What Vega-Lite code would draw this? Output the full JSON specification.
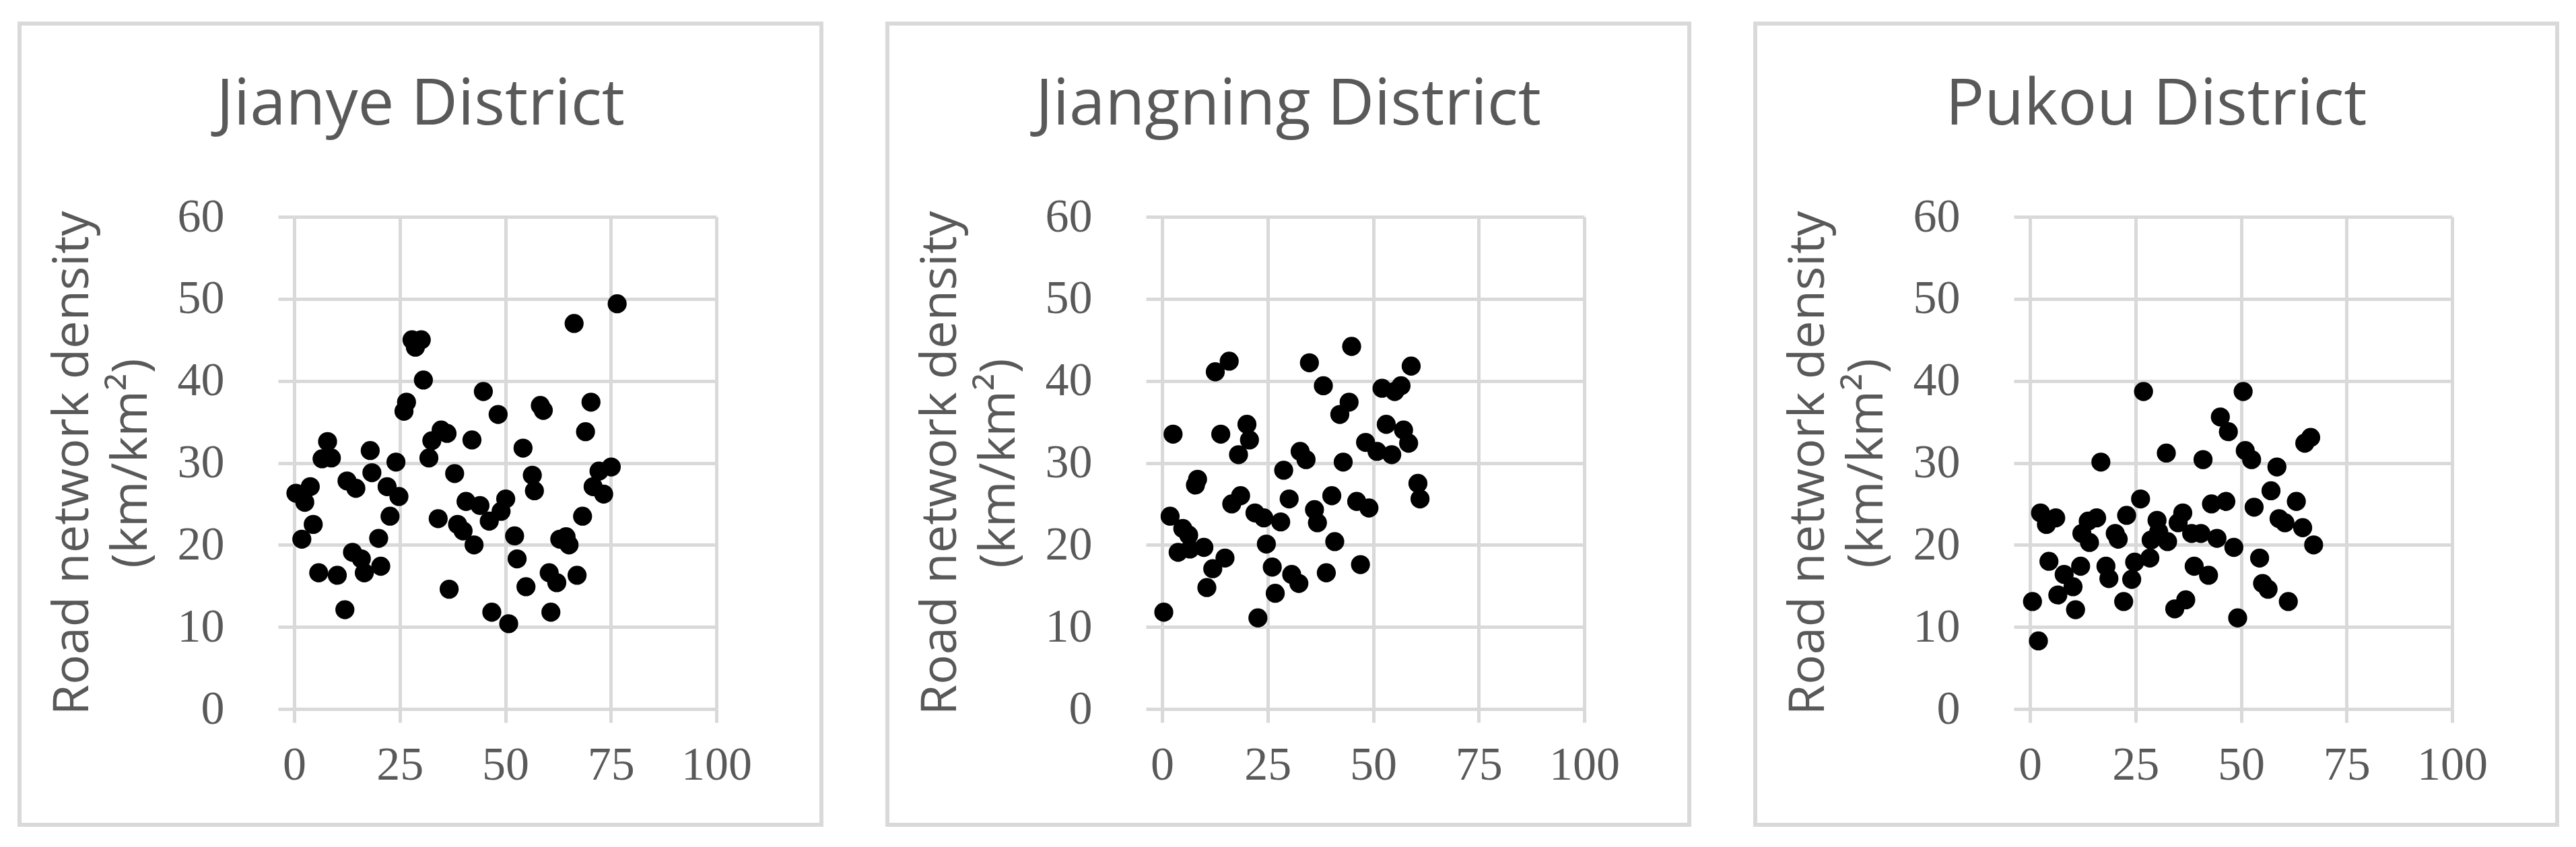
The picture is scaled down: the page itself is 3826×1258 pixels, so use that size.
{
  "$schema": "https://vega.github.io/schema/vega-lite/v6.json",
  "background": "white",
  "padding": {"left": 26, "top": 32, "right": 20, "bottom": 20},
  "spacing": 92,
  "data": {"values": [
    {"district":"J","x":76.5,"y":49.4},{"district":"J","x":66.3,"y":47.0},{"district":"J","x":27.9,"y":45.0},{"district":"J","x":30.1,"y":45.0},{"district":"J","x":28.7,"y":44.1},{"district":"J","x":30.6,"y":40.1},{"district":"J","x":44.8,"y":38.7},{"district":"J","x":26.6,"y":37.4},{"district":"J","x":26.0,"y":36.3},{"district":"J","x":48.3,"y":35.9},{"district":"J","x":58.3,"y":37.0},{"district":"J","x":59.0,"y":36.4},{"district":"J","x":70.3,"y":37.4},{"district":"J","x":69.0,"y":33.8},{"district":"J","x":34.8,"y":34.0},{"district":"J","x":36.2,"y":33.6},{"district":"J","x":32.6,"y":32.7},{"district":"J","x":31.9,"y":30.6},{"district":"J","x":42.1,"y":32.8},{"district":"J","x":7.9,"y":32.6},{"district":"J","x":6.6,"y":30.5},{"district":"J","x":8.8,"y":30.6},{"district":"J","x":18.0,"y":31.5},{"district":"J","x":24.1,"y":30.1},{"district":"J","x":54.2,"y":31.8},{"district":"J","x":75.1,"y":29.5},{"district":"J","x":72.2,"y":29.0},{"district":"J","x":70.8,"y":27.1},{"district":"J","x":73.3,"y":26.2},{"district":"J","x":56.4,"y":28.5},{"district":"J","x":56.9,"y":26.6},{"district":"J","x":38.0,"y":28.7},{"district":"J","x":18.4,"y":28.8},{"district":"J","x":12.5,"y":27.8},{"district":"J","x":14.6,"y":26.9},{"district":"J","x":3.8,"y":27.1},{"district":"J","x":0.4,"y":26.3},{"district":"J","x":2.5,"y":25.2},{"district":"J","x":22.0,"y":27.1},{"district":"J","x":24.8,"y":25.9},{"district":"J","x":40.7,"y":25.3},{"district":"J","x":44.0,"y":24.8},{"district":"J","x":46.2,"y":22.9},{"district":"J","x":50.1,"y":25.6},{"district":"J","x":49.0,"y":24.1},{"district":"J","x":22.7,"y":23.5},{"district":"J","x":34.1,"y":23.2},{"district":"J","x":38.7,"y":22.5},{"district":"J","x":40.0,"y":21.7},{"district":"J","x":42.6,"y":20.0},{"district":"J","x":52.2,"y":21.1},{"district":"J","x":68.3,"y":23.5},{"district":"J","x":62.9,"y":20.7},{"district":"J","x":64.4,"y":21.0},{"district":"J","x":65.1,"y":20.0},{"district":"J","x":4.5,"y":22.5},{"district":"J","x":1.8,"y":20.7},{"district":"J","x":20.0,"y":20.8},{"district":"J","x":13.8,"y":19.1},{"district":"J","x":15.9,"y":18.3},{"district":"J","x":16.6,"y":16.6},{"district":"J","x":20.5,"y":17.4},{"district":"J","x":5.8,"y":16.6},{"district":"J","x":10.2,"y":16.3},{"district":"J","x":52.8,"y":18.3},{"district":"J","x":60.4,"y":16.6},{"district":"J","x":62.2,"y":15.4},{"district":"J","x":67.0,"y":16.3},{"district":"J","x":54.9,"y":14.9},{"district":"J","x":36.7,"y":14.6},{"district":"J","x":12.0,"y":12.1},{"district":"J","x":46.8,"y":11.8},{"district":"J","x":50.8,"y":10.4},{"district":"J","x":60.8,"y":11.8},
    {"district":"G","x":44.9,"y":44.2},{"district":"G","x":15.9,"y":42.4},{"district":"G","x":12.6,"y":41.1},{"district":"G","x":34.9,"y":42.2},{"district":"G","x":59.0,"y":41.8},{"district":"G","x":38.2,"y":39.4},{"district":"G","x":52.1,"y":39.1},{"district":"G","x":55.1,"y":38.7},{"district":"G","x":56.6,"y":39.4},{"district":"G","x":44.3,"y":37.4},{"district":"G","x":42.1,"y":35.9},{"district":"G","x":2.6,"y":33.5},{"district":"G","x":13.9,"y":33.5},{"district":"G","x":20.1,"y":34.7},{"district":"G","x":20.7,"y":32.8},{"district":"G","x":18.1,"y":31.0},{"district":"G","x":53.1,"y":34.7},{"district":"G","x":57.2,"y":34.0},{"district":"G","x":58.4,"y":32.4},{"district":"G","x":48.2,"y":32.5},{"district":"G","x":50.9,"y":31.4},{"district":"G","x":54.4,"y":31.0},{"district":"G","x":32.7,"y":31.4},{"district":"G","x":34.1,"y":30.4},{"district":"G","x":42.9,"y":30.1},{"district":"G","x":28.8,"y":29.1},{"district":"G","x":8.4,"y":28.0},{"district":"G","x":7.9,"y":27.3},{"district":"G","x":60.6,"y":27.5},{"district":"G","x":61.1,"y":25.6},{"district":"G","x":18.6,"y":26.0},{"district":"G","x":16.5,"y":25.0},{"district":"G","x":30.1,"y":25.6},{"district":"G","x":40.2,"y":26.0},{"district":"G","x":46.1,"y":25.3},{"district":"G","x":49.0,"y":24.5},{"district":"G","x":36.1,"y":24.3},{"district":"G","x":36.8,"y":22.7},{"district":"G","x":1.9,"y":23.5},{"district":"G","x":22.0,"y":23.9},{"district":"G","x":24.1,"y":23.3},{"district":"G","x":28.1,"y":22.8},{"district":"G","x":4.9,"y":22.0},{"district":"G","x":6.3,"y":21.2},{"district":"G","x":40.9,"y":20.4},{"district":"G","x":24.7,"y":20.1},{"district":"G","x":9.9,"y":19.7},{"district":"G","x":6.6,"y":19.5},{"district":"G","x":3.8,"y":19.1},{"district":"G","x":14.9,"y":18.4},{"district":"G","x":12.0,"y":17.1},{"district":"G","x":26.1,"y":17.3},{"district":"G","x":47.0,"y":17.6},{"district":"G","x":30.7,"y":16.4},{"district":"G","x":32.4,"y":15.3},{"district":"G","x":38.9,"y":16.6},{"district":"G","x":10.6,"y":14.8},{"district":"G","x":26.8,"y":14.1},{"district":"G","x":0.4,"y":11.8},{"district":"G","x":22.7,"y":11.1},
    {"district":"P","x":26.9,"y":38.7},{"district":"P","x":50.5,"y":38.7},{"district":"P","x":45.1,"y":35.6},{"district":"P","x":47.0,"y":33.8},{"district":"P","x":66.5,"y":33.1},{"district":"P","x":65.1,"y":32.4},{"district":"P","x":32.3,"y":31.2},{"district":"P","x":16.8,"y":30.1},{"district":"P","x":41.0,"y":30.4},{"district":"P","x":51.0,"y":31.5},{"district":"P","x":52.5,"y":30.4},{"district":"P","x":58.5,"y":29.5},{"district":"P","x":57.1,"y":26.6},{"district":"P","x":26.2,"y":25.6},{"district":"P","x":43.0,"y":25.0},{"district":"P","x":46.4,"y":25.3},{"district":"P","x":53.1,"y":24.6},{"district":"P","x":63.1,"y":25.3},{"district":"P","x":59.0,"y":23.2},{"district":"P","x":60.4,"y":22.7},{"district":"P","x":64.6,"y":22.1},{"district":"P","x":67.2,"y":20.0},{"district":"P","x":2.5,"y":23.9},{"district":"P","x":6.1,"y":23.3},{"district":"P","x":3.9,"y":22.5},{"district":"P","x":15.8,"y":23.3},{"district":"P","x":13.8,"y":22.9},{"district":"P","x":22.9,"y":23.6},{"district":"P","x":30.1,"y":23.0},{"district":"P","x":36.2,"y":23.9},{"district":"P","x":35.1,"y":22.7},{"district":"P","x":12.3,"y":21.4},{"district":"P","x":14.1,"y":20.3},{"district":"P","x":20.2,"y":21.4},{"district":"P","x":20.9,"y":20.7},{"district":"P","x":28.7,"y":20.6},{"district":"P","x":32.6,"y":20.4},{"district":"P","x":30.5,"y":21.6},{"district":"P","x":38.3,"y":21.4},{"district":"P","x":40.5,"y":21.4},{"district":"P","x":44.3,"y":20.8},{"district":"P","x":48.3,"y":19.7},{"district":"P","x":54.4,"y":18.4},{"district":"P","x":4.5,"y":18.0},{"district":"P","x":12.0,"y":17.4},{"district":"P","x":8.1,"y":16.4},{"district":"P","x":18.0,"y":17.4},{"district":"P","x":18.7,"y":15.9},{"district":"P","x":24.8,"y":17.9},{"district":"P","x":28.4,"y":18.4},{"district":"P","x":24.1,"y":15.8},{"district":"P","x":38.9,"y":17.4},{"district":"P","x":42.3,"y":16.3},{"district":"P","x":10.2,"y":14.9},{"district":"P","x":6.6,"y":13.9},{"district":"P","x":55.1,"y":15.3},{"district":"P","x":56.4,"y":14.6},{"district":"P","x":0.6,"y":13.1},{"district":"P","x":10.8,"y":12.1},{"district":"P","x":22.2,"y":13.1},{"district":"P","x":36.9,"y":13.3},{"district":"P","x":34.3,"y":12.2},{"district":"P","x":61.2,"y":13.1},{"district":"P","x":49.2,"y":11.1},{"district":"P","x":2.0,"y":8.3}
  ]},
  "hconcat": [
    {
      "width": 1191, "height": 1190,
      "title": {"text": "Jianye District"},
      "transform": [{"filter": "datum.district === 'J'"}],
      "layer": [
        {"mark": {"type": "point", "opacity": 0},
         "encoding": {
           "x": {"field": "x", "type": "quantitative", "scale": {"domain": [0, 100], "range": [408, 1035], "nice": false},
                 "axis": {"orient": "top", "offset": 0, "grid": true, "domain": false, "ticks": false, "labels": false, "title": null, "values": [0, 25, 50, 75, 100]}},
           "y": {"field": "y", "type": "quantitative", "scale": {"domain": [0, 60], "range": [1018, 287], "nice": false},
                 "axis": {"orient": "left", "offset": -408, "grid": true, "tickSize": 24, "labelPadding": 80, "values": [0, 10, 20, 30, 40, 50, 60], "title": ["Road network density", "(km/km²)"]}}
         }},
        {"mark": {"type": "circle", "color": "black", "opacity": 1, "size": 800},
         "encoding": {
           "x": {"field": "x", "type": "quantitative", "scale": {"domain": [0, 100], "range": [408, 1035], "nice": false},
                 "axis": {"orient": "bottom", "offset": -172, "grid": false, "tickSize": 20, "labelPadding": 84, "labelBaseline": "alphabetic", "values": [0, 25, 50, 75, 100], "title": null}},
           "y": {"field": "y", "type": "quantitative", "scale": {"domain": [0, 60], "range": [1018, 287], "nice": false},
                 "axis": {"orient": "left", "offset": -408, "grid": true, "tickSize": 24, "labelPadding": 80, "values": [0, 10, 20, 30, 40, 50, 60], "title": ["Road network density", "(km/km²)"]}}
         }}
      ]
    },
    {
      "width": 1191, "height": 1190,
      "title": {"text": "Jiangning District"},
      "transform": [{"filter": "datum.district === 'G'"}],
      "layer": [
        {"mark": {"type": "point", "opacity": 0},
         "encoding": {
           "x": {"field": "x", "type": "quantitative", "scale": {"domain": [0, 100], "range": [408, 1035], "nice": false},
                 "axis": {"orient": "top", "offset": 0, "grid": true, "domain": false, "ticks": false, "labels": false, "title": null, "values": [0, 25, 50, 75, 100]}},
           "y": {"field": "y", "type": "quantitative", "scale": {"domain": [0, 60], "range": [1018, 287], "nice": false},
                 "axis": {"orient": "left", "offset": -408, "grid": true, "tickSize": 24, "labelPadding": 80, "values": [0, 10, 20, 30, 40, 50, 60], "title": ["Road network density", "(km/km²)"]}}
         }},
        {"mark": {"type": "circle", "color": "black", "opacity": 1, "size": 800},
         "encoding": {
           "x": {"field": "x", "type": "quantitative", "scale": {"domain": [0, 100], "range": [408, 1035], "nice": false},
                 "axis": {"orient": "bottom", "offset": -172, "grid": false, "tickSize": 20, "labelPadding": 84, "labelBaseline": "alphabetic", "values": [0, 25, 50, 75, 100], "title": null}},
           "y": {"field": "y", "type": "quantitative", "scale": {"domain": [0, 60], "range": [1018, 287], "nice": false},
                 "axis": {"orient": "left", "offset": -408, "grid": true, "tickSize": 24, "labelPadding": 80, "values": [0, 10, 20, 30, 40, 50, 60], "title": ["Road network density", "(km/km²)"]}}
         }}
      ]
    },
    {
      "width": 1191, "height": 1190,
      "title": {"text": "Pukou District"},
      "transform": [{"filter": "datum.district === 'P'"}],
      "layer": [
        {"mark": {"type": "point", "opacity": 0},
         "encoding": {
           "x": {"field": "x", "type": "quantitative", "scale": {"domain": [0, 100], "range": [408, 1035], "nice": false},
                 "axis": {"orient": "top", "offset": 0, "grid": true, "domain": false, "ticks": false, "labels": false, "title": null, "values": [0, 25, 50, 75, 100]}},
           "y": {"field": "y", "type": "quantitative", "scale": {"domain": [0, 60], "range": [1018, 287], "nice": false},
                 "axis": {"orient": "left", "offset": -408, "grid": true, "tickSize": 24, "labelPadding": 80, "values": [0, 10, 20, 30, 40, 50, 60], "title": ["Road network density", "(km/km²)"]}}
         }},
        {"mark": {"type": "circle", "color": "black", "opacity": 1, "size": 800},
         "encoding": {
           "x": {"field": "x", "type": "quantitative", "scale": {"domain": [0, 100], "range": [408, 1035], "nice": false},
                 "axis": {"orient": "bottom", "offset": -172, "grid": false, "tickSize": 20, "labelPadding": 84, "labelBaseline": "alphabetic", "values": [0, 25, 50, 75, 100], "title": null}},
           "y": {"field": "y", "type": "quantitative", "scale": {"domain": [0, 60], "range": [1018, 287], "nice": false},
                 "axis": {"orient": "left", "offset": -408, "grid": true, "tickSize": 24, "labelPadding": 80, "values": [0, 10, 20, 30, 40, 50, 60], "title": ["Road network density", "(km/km²)"]}}
         }}
      ]
    }
  ],
  "config": {
    "view": {"stroke": "#d9d9d9", "strokeWidth": 6},
    "axis": {
      "gridColor": "#d9d9d9", "gridWidth": 5, "gridOpacity": 1,
      "domainColor": "#d9d9d9", "domainWidth": 5,
      "tickColor": "#d9d9d9", "tickWidth": 5,
      "labelFont": "Liberation Serif", "labelFontSize": 70, "labelColor": "#595959",
      "labelFlush": false, "labelOverlap": false,
      "titleFont": "Open Sans", "titleFontSize": 74, "titleFontWeight": "normal", "titleColor": "#595959",
      "titlePadding": 30, "titleLineHeight": 87
    },
    "title": {
      "font": "Open Sans", "fontSize": 96, "fontWeight": "normal", "color": "#595959",
      "anchor": "middle", "frame": "group", "baseline": "alphabetic", "offset": -170
    }
  }
}
